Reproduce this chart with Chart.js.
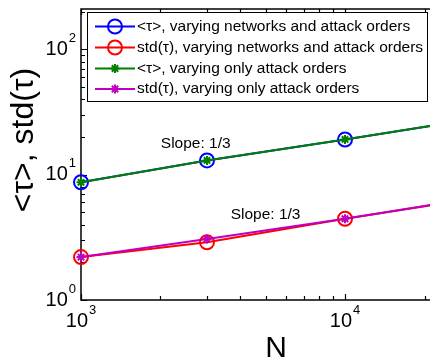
<!DOCTYPE html>
<html>
<head>
<meta charset="utf-8">
<script src="https://cdn.jsdelivr.net/npm/chart.js@4/dist/chart.umd.min.js"></script>
<style>
  html, body { margin: 0; padding: 0; overflow: hidden; background: #fff; width: 430px; height: 363px; }
  #wrap { width: 480px; height: 363px; }
</style>
</head>
<body>
<div id="wrap"><canvas id="c" width="480" height="363"></canvas></div>
<script>
// network sizes N and the measured tau statistics
const sizes = [1000, 3000, 10000, 30000];
const meanNetworks = [8.7, 13.0, 19.1, 27.6];
const stdNetworks = [2.2, 2.89, 4.45, 6.4];
const meanOrders = [8.7, 13.0, 19.1, 27.6];
const stdOrders = [2.2, 3.07, 4.45, 6.45];

const seriesLabels = [
    '<\u03c4>, varying networks and attack orders',
    'std(\u03c4), varying networks and attack orders',
    '<\u03c4>, varying only attack orders',
    'std(\u03c4), varying only attack orders'
];
const xTicks = [1000, 10000];
const yTicks = [1, 10, 100];
const slopeNotes = [
    { text: 'Slope: 1/3', n: 2720, v: 17.7 },
    { text: 'Slope: 1/3', n: 5000, v: 4.78 }
];

const FONT = "'Liberation Sans', Arial, Helvetica, sans-serif";

function series(values) {
    return sizes.map((n, i) => ({ x: n, y: values[i] }));
}

function drawPow(ctx, exp, x, y, align) {
    // "10" with a raised exponent; y is the middle of the "10"
    ctx.font = '20px ' + FONT;
    const base = ctx.measureText('10').width;
    ctx.font = '13px ' + FONT;
    const sup = ctx.measureText(String(exp)).width;
    const total = base + sup + 1;
    const left = align === 'center' ? x - total / 2 : x - total;
    ctx.textAlign = 'left';
    ctx.textBaseline = 'middle';
    ctx.font = '20px ' + FONT;
    ctx.fillText('10', left, y);
    ctx.font = '13px ' + FONT;
    ctx.fillText(String(exp), left + base + 1, y - 11);
}

const axesPlugin = {
    id: 'matlabAxes',
    beforeDatasetsDraw(chart) {
        const { ctx, chartArea: a, scales } = chart;
        const xs = scales.x, ys = scales.y;
        ctx.save();
        ctx.setLineDash([]);
        ctx.strokeStyle = '#000';
        ctx.lineWidth = 1.5;
        ctx.strokeRect(a.left, a.top, a.right - a.left, a.bottom - a.top);

        // minor and major ticks, pointing inward
        ctx.lineWidth = 1.2;
        for (let d = 0; d <= 2; d++) {
            for (let m = 1; m <= 9; m++) {
                const v = m * Math.pow(10, d);
                if (v > 210) break;
                const py = Math.round(ys.getPixelForValue(v)) + 0.5;
                const len = m === 1 ? 6 : 4;
                ctx.beginPath();
                ctx.moveTo(a.left, py); ctx.lineTo(a.left + len, py);
                ctx.moveTo(a.right, py); ctx.lineTo(a.right - len, py);
                ctx.stroke();
            }
        }
        for (let d = 3; d <= 4; d++) {
            for (let m = 1; m <= 9; m++) {
                const v = m * Math.pow(10, d);
                if (v > 30000) break;
                const px = Math.round(xs.getPixelForValue(v)) + 0.5;
                const len = m === 1 ? 6 : 4;
                ctx.beginPath();
                ctx.moveTo(px, a.bottom); ctx.lineTo(px, a.bottom - len);
                ctx.moveTo(px, a.top); ctx.lineTo(px, a.top + len);
                ctx.stroke();
            }
        }

        ctx.fillStyle = '#000';
        yTicks.forEach(v => drawPow(ctx, Math.round(Math.log10(v)), a.left - 5, ys.getPixelForValue(v), 'right'));
        xTicks.forEach(v => drawPow(ctx, Math.round(Math.log10(v)), xs.getPixelForValue(v), a.bottom + 21, 'center'));

        // axis titles
        ctx.font = '30px ' + FONT;
        ctx.textAlign = 'center';
        ctx.textBaseline = 'alphabetic';
        ctx.fillText('N', (a.left + a.right) / 2, 357);
        ctx.save();
        ctx.translate(33, 140);
        ctx.rotate(-Math.PI / 2);
        ctx.font = '32px ' + FONT;
        ctx.fillText('<\u03c4>, std(\u03c4)', 0, 0);
        ctx.restore();

        // slope notes
        ctx.font = '15.5px ' + FONT;
        ctx.textBaseline = 'middle';
        slopeNotes.forEach(s => ctx.fillText(s.text, xs.getPixelForValue(s.n), ys.getPixelForValue(s.v)));
        ctx.restore();
    },
    afterDraw(chart) {
        const { ctx } = chart;
        const box = { left: 87.5, top: 12.5, right: 427.5, bottom: 101.5 };
        ctx.save();
        ctx.fillStyle = '#fff';
        ctx.fillRect(box.left, box.top, box.right - box.left, box.bottom - box.top);
        ctx.strokeStyle = '#000';
        ctx.lineWidth = 1;
        ctx.strokeRect(box.left, box.top, box.right - box.left, box.bottom - box.top);
        const rows = [26.5, 47.5, 68.5, 89];
        chart.data.datasets.forEach((ds, i) => {
            const y = rows[i];
            ctx.strokeStyle = ds.borderColor;
            ctx.lineWidth = 2;
            ctx.beginPath();
            ctx.moveTo(95, y); ctx.lineTo(135, y);
            ctx.stroke();
            ctx.fillStyle = 'rgba(0,0,0,0)';
            ctx.lineWidth = ds.pointBorderWidth;
            Chart.helpers.drawPoint(ctx, { pointStyle: ds.pointStyle, radius: ds.pointRadius, rotation: 0, borderWidth: ds.pointBorderWidth }, 115, y);
            ctx.fillStyle = '#000';
            ctx.font = '15.5px ' + FONT;
            ctx.textAlign = 'left';
            ctx.textBaseline = 'middle';
            ctx.fillText(ds.label, 137, y);
        });
        ctx.restore();
    }
};

function lineSet(label, values, color, style, radius, order) {
    return {
        label, data: series(values),
        borderColor: color, borderWidth: 2,
        pointStyle: style, pointRadius: radius, pointHoverRadius: radius,
        pointBorderColor: color, pointBackgroundColor: 'rgba(0,0,0,0)',
        pointBorderWidth: 2, tension: 0, clip: false, order
    };
}

new Chart(document.getElementById('c'), {
    type: 'line',
    data: {
        datasets: [
            lineSet(seriesLabels[0], meanNetworks, '#0000ff', 'circle', 7, 4),
            lineSet(seriesLabels[1], stdNetworks, '#ff0000', 'circle', 7, 3),
            lineSet(seriesLabels[2], meanOrders, '#008000', 'star', 4.5, 2),
            lineSet(seriesLabels[3], stdOrders, '#c000c0', 'star', 4.5, 1)
        ]
    },
    options: {
        responsive: false,
        animation: false,
        events: [],
        layout: { padding: { left: 81, top: 6, right: 5, bottom: 63 } },
        plugins: { legend: { display: false }, tooltip: { enabled: false } },
        scales: {
            x: { type: 'logarithmic', min: 1000, max: 30000, display: false },
            y: { type: 'logarithmic', min: 1, max: 210, display: false }
        }
    },
    plugins: [axesPlugin]
});
</script>
</body>
</html>
